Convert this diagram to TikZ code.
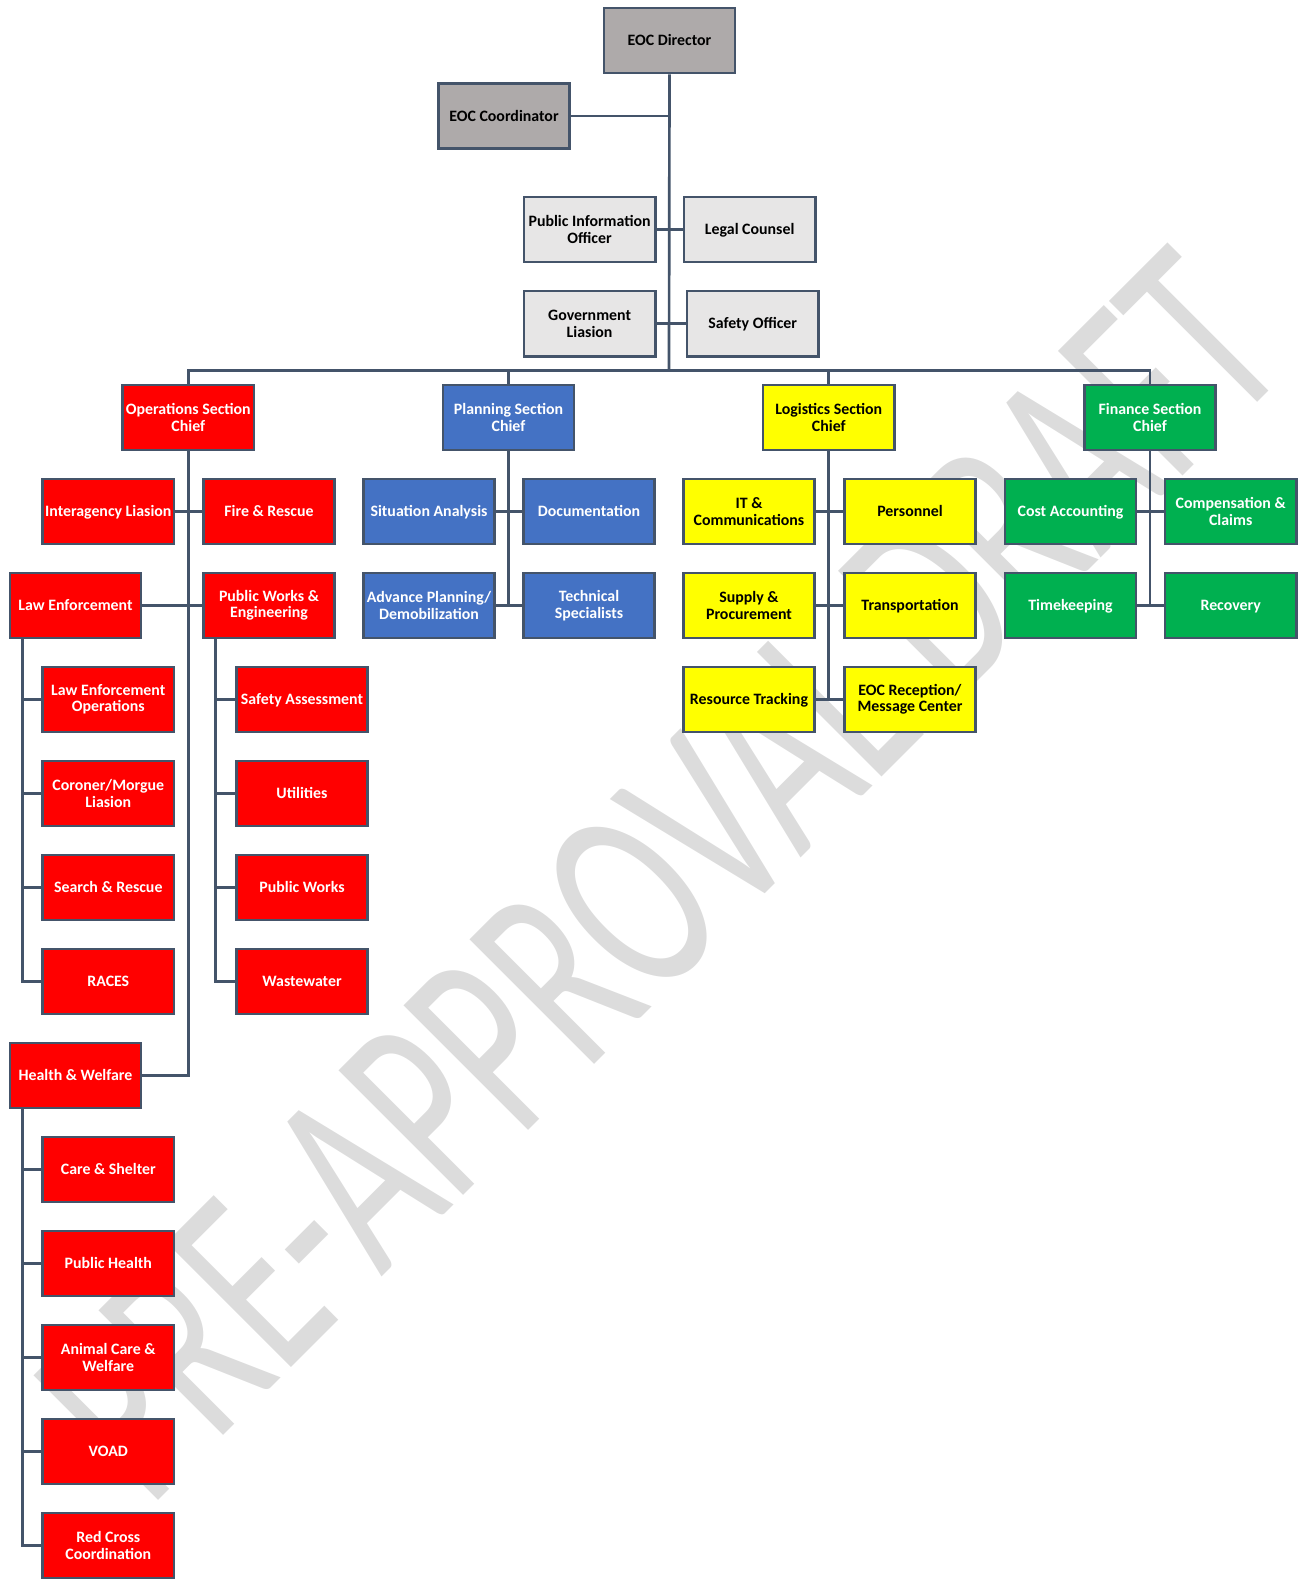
\documentclass[tikz,border=0pt]{standalone}
\usepackage{fontspec}
\setmainfont{Carlito}
\definecolor{bord}{HTML}{44546A}
\definecolor{cgray}{HTML}{AEAAAA}
\definecolor{clight}{HTML}{E7E6E6}
\definecolor{cred}{HTML}{FF0000}
\definecolor{cblue}{HTML}{4472C4}
\definecolor{cyellow}{HTML}{FFFF00}
\definecolor{cgreen}{HTML}{00B050}
\definecolor{wm}{HTML}{DCDCDC}
\tikzset{
  orgbox/.style={draw=bord, line width=1.9pt, minimum width=98.5pt, minimum height=48.8pt,
    inner sep=1pt, align=center, font=\bfseries\fontsize{11.9}{12.3}\selectfont},
  one/.style={text height=7.9pt, text depth=0pt},
  gbox/.style={orgbox, fill=cgray, text=black},
  lbox/.style={orgbox, fill=clight, text=black},
  rbox/.style={orgbox, fill=cred, text=white},
  bbox/.style={orgbox, fill=cblue, text=white},
  ybox/.style={orgbox, fill=cyellow, text=black},
  ebox/.style={orgbox, fill=cgreen, text=white},
  conn/.style={draw=bord, line width=2pt},
}
\begin{document}
\begin{tikzpicture}[x=0.75pt, y=-0.75pt]
\useasboundingbox (0,0) rectangle (1298,1579);
% watermark
\node[text=wm, anchor=base, rotate=45, xscale=0.65, inner sep=0pt, font=\fontsize{206}{206}\selectfont] (wmark) at (721.3,937.7) {PRE-APPROVAL DRAFT};
% coordinates
\coordinate (bar) at (669,370.6);
\coordinate (lesub) at (22.2,0);
\coordinate (pwsub) at (215.5,0);
% top
\node[gbox,one] (dir) at (669.5,40.5) {EOC Director};
\node[gbox,one] (coord) at (504,116) {EOC Coordinator};
\node[lbox] (pio) at (589.6,229.5) {Public Information\\Officer};
\node[lbox,one] (legal) at (749.7,229.5) {Legal Counsel};
\node[lbox] (gov) at (589.6,323.7) {Government\\Liasion};
\node[lbox,one] (safety) at (752.7,323.7) {Safety Officer};
% chiefs
\node[rbox] (ops) at (188.3,417.4) {Operations Section\\Chief};
\node[bbox] (plan) at (508.5,417.4) {Planning Section\\Chief};
\node[ybox] (log) at (828.8,417.4) {Logistics Section\\Chief};
\node[ebox] (fin) at (1150,417.4) {Finance Section\\Chief};
% operations
\node[rbox,one] (inter) at (108.3,511.5) {Interagency Liasion};
\node[rbox,one] (fire) at (269,511.5) {Fire \& Rescue};
\node[rbox,one] (le) at (75.5,605.5) {Law Enforcement};
\node[rbox] (pwe) at (269,605.5) {Public Works \&\\Engineering};
\node[rbox] (leo) at (108.3,699.5) {Law Enforcement\\Operations};
\node[rbox] (cor) at (108.3,793.5) {Coroner/Morgue\\Liasion};
\node[rbox,one] (sar) at (108.3,887.5) {Search \& Rescue};
\node[rbox,one] (races) at (108.3,981.5) {RACES};
\node[rbox,one] (safa) at (302,699.5) {Safety Assessment};
\node[rbox,one] (util) at (302,793.5) {Utilities};
\node[rbox,one] (pw) at (302,887.5) {Public Works};
\node[rbox,one] (waste) at (302,981.5) {Wastewater};
\node[rbox,one] (hw) at (75.5,1075.5) {Health \& Welfare};
\node[rbox,one] (care) at (108.3,1169.5) {Care \& Shelter};
\node[rbox,one] (ph) at (108.3,1263.5) {Public Health};
\node[rbox] (animal) at (108.3,1357.5) {Animal Care \&\\Welfare};
\node[rbox,one] (voad) at (108.3,1451.5) {VOAD};
\node[rbox] (redx) at (108.3,1545.5) {Red Cross\\Coordination};
% planning
\node[bbox,one] (sit) at (429,511.5) {Situation Analysis};
\node[bbox,one] (doc) at (589,511.5) {Documentation};
\node[bbox] (adv) at (429,605.5) {Advance Planning/\\Demobilization};
\node[bbox] (tech) at (589,605.5) {Technical\\Specialists};
% logistics
\node[ybox] (it) at (749,511.5) {IT \&\\Communications};
\node[ybox,one] (pers) at (910,511.5) {Personnel};
\node[ybox] (sup) at (749,605.5) {Supply \&\\Procurement};
\node[ybox,one] (trans) at (910,605.5) {Transportation};
\node[ybox,one] (rtrack) at (749,699.5) {Resource Tracking};
\node[ybox] (recep) at (910,699.5) {EOC Reception/\\Message Center};
% finance
\node[ebox,one] (cost) at (1070.5,511.5) {Cost Accounting};
\node[ebox] (comp) at (1230.7,511.5) {Compensation \&\\Claims};
\node[ebox,one] (time) at (1070.5,605.5) {Timekeeping};
\node[ebox,one] (recov) at (1230.7,605.5) {Recovery};
% connectors top
\draw[conn] (dir.south) -- (bar);
\draw[conn] (coord.east) -- (dir.south |- coord.east);
\draw[conn] (pio.east) -- (legal.west);
\draw[conn] (gov.east) -- (safety.west);
\draw[conn] (ops.north) -- (ops.north |- bar) -- (fin.north |- bar) -- (fin.north);
\draw[conn] (plan.north) -- (plan.north |- bar);
\draw[conn] (log.north) -- (log.north |- bar);
% operations connectors
\draw[conn] (ops.south) -- (ops.south |- hw.east) -- (hw.east);
\draw[conn] (inter.east) -- (fire.west);
\draw[conn] (le.east) -- (pwe.west);
\draw[conn] (lesub |- le.south) -- (lesub |- races.west) -- (races.west);
\foreach \n in {leo,cor,sar} \draw[conn] (lesub |- \n.west) -- (\n.west);
\draw[conn] (pwsub |- pwe.south) -- (pwsub |- waste.west) -- (waste.west);
\foreach \n in {safa,util,pw} \draw[conn] (pwsub |- \n.west) -- (\n.west);
\draw[conn] (lesub |- hw.south) -- (lesub |- redx.west) -- (redx.west);
\foreach \n in {care,ph,animal,voad} \draw[conn] (lesub |- \n.west) -- (\n.west);
% planning
\draw[conn] (plan.south) -- (plan.south |- adv.east);
\draw[conn] (sit.east) -- (doc.west);
\draw[conn] (adv.east) -- (tech.west);
% logistics
\draw[conn] (log.south) -- (log.south |- rtrack.east);
\draw[conn] (it.east) -- (pers.west);
\draw[conn] (sup.east) -- (trans.west);
\draw[conn] (rtrack.east) -- (recep.west);
% finance
\draw[conn] (fin.south) -- (fin.south |- time.east);
\draw[conn] (cost.east) -- (comp.west);
\draw[conn] (time.east) -- (recov.west);
\end{tikzpicture}
\end{document}
